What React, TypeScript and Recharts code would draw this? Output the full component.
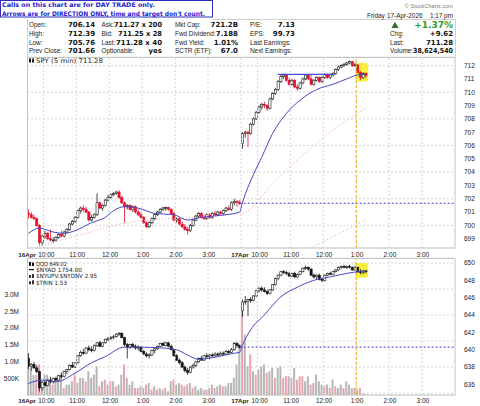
import React from "react";
import {
  ComposedChart,
  Bar,
  Line,
  XAxis,
  YAxis,
  CartesianGrid,
  ReferenceLine,
  ReferenceArea,
} from "recharts";

const W = 480;
const H = 406;
const SLOTS = 156; // two sessions of 5-min slots, 9:30 - 4:00

// SPY 5 min bars [open, high, low, close], 16-Apr 9:30 .. 3:55
const spyDay1 = [
  [700.9, 701.2, 700.5, 700.8], [700.8, 701.0, 700.5, 700.6], [700.6, 700.8, 700.4, 700.5],
  [700.5, 700.6, 699.9, 700.0], [700.0, 700.1, 698.5, 698.7], [698.7, 699.3, 698.5, 699.2],
  [699.2, 699.6, 699.0, 699.4], [699.4, 699.5, 698.9, 699.0], [699.0, 699.7, 698.8, 698.9],
  [698.9, 699.1, 698.7, 698.9], [698.9, 699.2, 698.8, 699.1], [699.1, 699.4, 699.0, 699.3],
  [699.3, 699.6, 699.1, 699.2], [699.2, 699.6, 699.1, 699.5], [699.5, 699.8, 699.4, 699.7],
  [699.7, 700.2, 699.6, 700.1], [700.1, 700.4, 700.0, 700.3], [700.3, 700.7, 700.2, 700.6],
  [700.6, 701.2, 700.5, 701.1], [701.1, 701.4, 700.9, 701.3], [701.3, 701.5, 701.0, 701.2],
  [701.2, 701.4, 700.9, 701.0], [701.0, 701.1, 700.3, 700.4], [700.4, 700.8, 700.3, 700.6],
  [700.6, 700.9, 700.5, 700.8], [700.8, 702.4, 700.7, 701.7], [701.7, 701.8, 701.2, 701.3],
  [701.3, 701.6, 701.1, 701.5], [701.5, 702.0, 701.4, 701.9], [701.9, 702.3, 701.8, 702.1],
  [702.1, 702.4, 702.0, 702.3], [702.3, 702.5, 702.2, 702.4], [702.4, 702.6, 702.3, 702.5],
  [702.5, 702.65, 702.0, 702.1], [702.1, 702.2, 701.6, 701.7], [701.7, 701.8, 700.2, 701.4],
  [701.4, 701.6, 701.2, 701.5], [701.5, 701.6, 701.1, 701.2], [701.2, 701.5, 701.0, 701.4],
  [701.4, 701.5, 700.9, 701.0], [701.0, 701.2, 700.7, 700.8], [700.8, 701.0, 700.5, 700.6],
  [700.6, 700.7, 700.1, 700.2], [700.2, 700.3, 699.8, 699.9], [699.9, 700.3, 699.8, 700.2],
  [700.2, 700.6, 700.1, 700.5], [700.5, 700.9, 700.4, 700.8], [700.8, 701.1, 700.7, 701.0],
  [701.0, 701.3, 700.9, 701.2], [701.2, 701.4, 701.1, 701.3], [701.3, 701.4, 701.1, 701.35],
  [701.35, 701.4, 701.1, 701.2], [701.2, 701.3, 700.8, 700.9], [700.9, 701.0, 700.3, 700.4],
  [700.4, 700.6, 700.2, 700.5], [700.5, 700.6, 700.0, 700.1], [700.1, 700.3, 699.8, 699.9],
  [699.9, 700.1, 699.6, 699.7], [699.7, 699.9, 699.3, 699.6], [699.6, 700.1, 699.5, 700.0],
  [700.0, 700.5, 699.9, 700.4], [700.4, 700.8, 700.3, 700.7], [700.7, 701.0, 700.6, 700.9],
  [700.9, 701.0, 700.5, 700.6], [700.6, 700.8, 700.4, 700.5], [700.5, 700.9, 700.4, 700.8],
  [700.8, 700.9, 700.5, 700.6], [700.6, 701.0, 700.5, 700.9], [700.9, 701.1, 700.7, 700.8],
  [700.8, 701.1, 700.7, 701.0], [701.0, 701.1, 700.8, 700.9], [700.9, 701.2, 700.8, 701.1],
  [701.1, 701.4, 701.0, 701.3], [701.3, 701.5, 701.1, 701.2], [701.2, 701.8, 701.1, 701.7],
  [701.7, 702.0, 701.5, 701.8], [701.8, 701.9, 701.4, 701.75], [701.75, 701.9, 701.5, 701.66],
];

// SPY 17-Apr 9:30 .. 1:15
const spyDay2 = [
  [706.14, 707.0, 705.76, 706.9], [706.9, 707.1, 706.6, 707.0], [707.0, 707.1, 705.9, 706.9],
  [706.9, 707.7, 706.8, 707.6], [707.6, 708.1, 707.5, 708.0], [708.0, 708.6, 707.9, 708.5],
  [708.5, 709.0, 708.4, 708.9], [708.9, 709.2, 708.7, 709.1], [709.1, 709.3, 708.8, 709.0],
  [709.0, 709.1, 708.6, 708.8], [708.8, 709.6, 708.7, 709.5], [709.5, 710.0, 709.4, 709.9],
  [709.9, 710.3, 709.8, 710.2], [710.2, 710.9, 710.1, 710.8], [710.8, 711.3, 710.7, 711.2],
  [711.2, 711.4, 711.0, 711.3], [711.3, 711.35, 710.8, 710.9], [710.9, 711.1, 710.5, 710.6],
  [710.6, 711.0, 710.5, 710.9], [710.9, 711.0, 710.3, 710.4], [710.4, 710.6, 710.1, 710.3],
  [710.3, 710.8, 710.2, 710.7], [710.7, 711.1, 710.6, 711.0], [711.0, 711.35, 710.9, 711.3],
  [711.3, 711.35, 710.9, 711.0], [711.0, 711.3, 710.5, 710.6], [710.6, 711.0, 710.5, 710.9],
  [710.9, 711.2, 710.8, 711.1], [711.1, 711.2, 710.7, 710.8], [710.8, 711.2, 710.7, 711.1],
  [711.1, 711.45, 711.0, 711.3], [711.3, 711.4, 711.0, 711.1], [711.1, 711.4, 711.0, 711.3],
  [711.3, 711.5, 711.2, 711.4], [711.4, 711.8, 711.3, 711.7], [711.7, 712.0, 711.6, 711.9],
  [711.9, 712.1, 711.8, 712.0], [712.0, 712.2, 711.9, 712.1], [712.1, 712.3, 712.0, 712.2],
  [712.2, 712.39, 712.1, 712.3], [712.3, 712.35, 711.9, 712.0], [712.0, 712.2, 711.9, 712.05],
  [712.05, 712.1, 711.4, 711.5], [711.5, 711.6, 710.9, 711.1], [711.1, 711.5, 711.0, 711.4],
  [711.4, 711.5, 711.1, 711.28],
];

// QQQ 5 min bars
const qqqDay1 = [
  [639.0, 639.6, 637.8, 638.1], [638.1, 638.5, 637.6, 638.3], [638.3, 638.6, 637.8, 637.9],
  [637.9, 638.2, 637.3, 637.5], [637.5, 637.6, 635.2, 635.6], [635.6, 636.4, 635.3, 636.2],
  [636.2, 636.5, 635.7, 635.9], [635.9, 636.6, 635.8, 636.5], [636.5, 636.9, 636.1, 636.3],
  [636.3, 636.8, 636.1, 636.7], [636.7, 636.9, 636.3, 636.5], [636.5, 637.1, 636.4, 637.0],
  [637.0, 637.4, 636.7, 636.9], [636.9, 637.6, 636.8, 637.5], [637.5, 637.8, 637.2, 637.7],
  [637.7, 638.3, 637.6, 638.2], [638.2, 638.6, 637.9, 638.0], [638.0, 638.6, 637.9, 638.5],
  [638.5, 639.4, 638.4, 639.3], [639.3, 639.9, 639.2, 639.7], [639.7, 640.1, 639.4, 639.6],
  [639.6, 640.3, 639.5, 640.2], [640.2, 640.5, 639.8, 640.0], [640.0, 640.4, 639.7, 639.9],
  [639.9, 640.6, 639.8, 640.5], [640.5, 640.9, 640.3, 640.8], [640.8, 641.0, 640.3, 640.4],
  [640.4, 640.9, 640.3, 640.8], [640.8, 641.3, 640.7, 641.2], [641.2, 641.5, 641.0, 641.3],
  [641.3, 641.6, 641.1, 641.4], [641.4, 641.7, 641.2, 641.5], [641.5, 641.9, 641.4, 641.8],
  [641.8, 642.05, 641.6, 641.9], [641.9, 642.0, 641.3, 641.4], [641.4, 641.5, 640.4, 640.6],
  [640.6, 640.8, 639.0, 640.3], [640.3, 640.7, 640.1, 640.6], [640.6, 640.8, 640.2, 640.4],
  [640.4, 640.6, 640.0, 640.2], [640.2, 640.5, 639.9, 640.3], [640.3, 640.4, 639.7, 639.8],
  [639.8, 640.0, 639.4, 639.5], [639.5, 639.7, 639.1, 639.3], [639.3, 639.6, 639.0, 639.4],
  [639.4, 640.0, 639.3, 639.9], [639.9, 640.2, 639.6, 640.1], [640.1, 640.5, 640.0, 640.4],
  [640.4, 640.8, 640.3, 640.7], [640.7, 640.9, 640.4, 640.5], [640.5, 640.9, 640.4, 640.8],
  [640.8, 640.9, 640.3, 640.4], [640.4, 640.6, 639.9, 640.0], [640.0, 640.1, 639.2, 639.3],
  [639.3, 639.5, 638.7, 638.8], [638.8, 639.0, 638.3, 638.5], [638.5, 638.7, 637.9, 638.0],
  [638.0, 638.2, 637.4, 637.6], [637.6, 637.9, 637.1, 637.4], [637.4, 638.1, 637.3, 638.0],
  [638.0, 638.4, 637.8, 638.2], [638.2, 638.7, 638.0, 638.6], [638.6, 639.1, 638.5, 639.0],
  [639.0, 639.3, 638.7, 638.8], [638.8, 639.4, 638.7, 639.3], [639.3, 639.6, 639.0, 639.2],
  [639.2, 639.5, 638.9, 639.4], [639.4, 639.6, 639.1, 639.3], [639.3, 639.7, 639.2, 639.5],
  [639.5, 639.7, 639.2, 639.4], [639.4, 639.8, 639.3, 639.6], [639.6, 639.8, 639.4, 639.5],
  [639.5, 640.0, 639.4, 639.8], [639.8, 640.0, 639.5, 639.7], [639.7, 640.2, 639.6, 640.0],
  [640.0, 640.9, 639.9, 640.7], [640.7, 640.9, 640.2, 640.5], [640.5, 640.6, 640.1, 640.3],
];

const qqqDay2 = [
  [644.5, 645.8, 643.8, 645.5], [645.5, 646.2, 645.2, 645.6], [645.6, 645.9, 643.9, 645.8],
  [645.8, 646.1, 645.4, 645.7], [645.7, 646.3, 645.6, 646.2], [646.2, 646.9, 646.1, 646.8],
  [646.8, 647.2, 646.6, 647.1], [647.1, 647.3, 646.7, 646.9], [646.9, 647.2, 646.6, 646.7],
  [646.7, 646.9, 646.3, 646.5], [646.5, 647.0, 646.4, 646.9], [646.9, 647.6, 646.8, 647.5],
  [647.5, 648.3, 647.4, 648.2], [648.2, 648.7, 648.0, 648.6], [648.6, 649.1, 648.5, 649.0],
  [649.0, 649.2, 648.7, 648.9], [648.9, 649.1, 648.6, 648.8], [648.8, 649.0, 648.4, 648.5],
  [648.5, 648.9, 648.4, 648.8], [648.8, 649.0, 648.3, 648.4], [648.4, 648.8, 648.3, 648.7],
  [648.7, 649.1, 648.6, 649.0], [649.0, 649.5, 648.9, 649.4], [649.4, 649.7, 649.2, 649.5],
  [649.5, 649.6, 649.1, 649.3], [649.3, 649.4, 648.5, 648.6], [648.6, 648.8, 648.2, 648.4],
  [648.4, 648.7, 648.1, 648.6], [648.6, 648.8, 648.0, 648.1], [648.1, 648.3, 647.8, 648.0],
  [648.0, 648.7, 647.9, 648.6], [648.6, 648.9, 648.5, 648.8], [648.8, 649.0, 648.6, 648.7],
  [648.7, 649.1, 648.6, 649.0], [649.0, 649.3, 648.9, 649.2], [649.2, 649.6, 649.1, 649.5],
  [649.5, 649.7, 649.3, 649.6], [649.6, 649.8, 649.4, 649.5], [649.5, 649.7, 649.3, 649.6],
  [649.6, 649.8, 649.4, 649.5], [649.5, 649.6, 649.1, 649.2], [649.2, 649.7, 649.1, 649.5],
  [649.5, 649.6, 648.9, 649.0], [649.0, 649.3, 648.7, 648.9], [648.9, 649.2, 648.7, 649.1],
  [649.1, 649.2, 648.8, 649.02],
];

// volume, millions; 1 = pink bar
const volDay1 = [
  1.15, 0.8, 0.6, 0.6, 0.92, 0.41, 0.61, 0.61, 0.46, 0.31,
  0.41, 0.41, 0.61, 0.21, 0.31, 0.31, 0.41, 0.61, 0.36, 0.51,
  0.51, 0.41, 0.71, 0.51, 0.61, 0.86, 0.26, 0.41, 0.46, 0.31,
  0.41, 0.41, 0.26, 0.31, 0.61, 0.91, 0.51, 0.31, 0.41, 0.21,
  0.21, 0.26, 0.21, 0.31, 0.36, 0.16, 0.26, 0.16, 0.21, 0.16,
  0.21, 0.11, 0.41, 0.46, 0.31, 0.36, 0.31, 0.26, 0.31, 0.36,
  0.21, 0.26, 0.16, 0.21, 0.16, 0.16, 0.21, 0.31, 0.21, 0.26,
  0.31, 0.26, 0.26, 0.36, 0.36, 0.51, 0.91, 1.51,
];
const volDay2 = [
  2.72, 1.81, 0.86, 1.21, 0.71, 0.61, 0.76, 0.86, 0.91, 0.66,
  0.71, 0.81, 0.51, 0.81, 0.86, 0.51, 0.56, 0.56, 0.51, 0.81,
  0.46, 0.56, 0.56, 0.41, 0.56, 0.31, 0.36, 0.61, 0.41, 0.31,
  0.26, 0.31, 0.21, 0.46, 0.26, 0.21, 0.31, 0.21, 0.41, 0.31,
  0.21, 0.21, 0.16, 0.21, 0.05, 0.02,
];
const volDownDay1 = [
  0, 0, 0, 1, 1, 0, 0, 0, 0, 1, 0, 0, 0, 1, 0, 0, 0, 1, 0, 0,
  0, 1, 0, 0, 0, 0, 1, 0, 1, 0, 1, 0, 1, 0, 0, 1, 0, 0, 0, 1,
  1, 0, 0, 1, 0, 1, 0, 1, 0, 0, 1, 0, 0, 1, 0, 0, 1, 0, 1, 0,
  1, 0, 0, 0, 1, 0, 1, 0, 1, 0, 0, 1, 0, 0, 0, 0, 0, 0,
];
const volDownDay2 = [
  1, 0, 0, 1, 0, 1, 0, 0, 0, 1, 0, 0, 1, 0, 0, 1, 1, 0, 1, 0,
  1, 1, 1, 0, 0, 1, 0, 0, 0, 0, 1, 0, 1, 0, 1, 0, 0, 1, 0, 0,
  0, 1, 0, 1, 0, 0,
];

// moving averages, read at selected slots [slot, value]
const spyMa = [
  [0, 699.4], [4, 699.8], [9, 699.5], [13, 699.4], [17, 699.6], [23, 700.2], [28, 700.6],
  [31, 701.1], [35, 701.4], [40, 701.3], [46, 700.9], [53, 700.8], [58, 700.4], [63, 700.6],
  [72, 700.8], [77, 701.0], [78, 701.7], [82, 703.8], [85, 705.1], [89, 706.9], [94, 708.4],
  [99, 709.4], [105, 710.2], [111, 710.6], [116, 711.0], [120, 711.3], [123, 711.35],
];
const spyMaSlow = [
  [3, 698.35], [20, 699.35], [36, 700.2], [50, 700.5], [63, 700.6], [75, 700.85],
  [78, 700.9], [88, 702.9], [99, 705.1], [110, 707.0], [123, 708.8],
];
const spyMaLong = [[103, 698.3], [123, 700.4]];
const qqqMa = [
  [0, 636.1], [5, 636.5], [10, 636.3], [17, 637.3], [23, 638.5], [28, 639.2], [35, 640.3],
  [40, 640.3], [49, 640.2], [54, 640.0], [58, 639.4], [62, 638.9], [69, 639.2], [75, 639.6],
  [77, 639.7], [78, 640.5], [81, 642.3], [86, 644.0], [92, 646.1], [98, 647.2], [104, 648.0],
  [110, 648.4], [116, 648.8], [121, 649.0], [123, 649.0],
];

const timeSlots = [0, 6, 18, 30, 42, 54, 66, 78, 84, 96, 108, 120, 132, 144];
const timeLabels = ["16Apr", "10:00", "11:00", "12:00", "1:00", "2:00", "3:00", "17Apr", "10:00", "11:00", "12:00", "1:00", "2:00", "3:00"];
const spyTicks = [699, 700, 701, 702, 703, 704, 705, 706, 707, 708, 709, 710, 711, 712];
const qqqTicks = [635, 636, 637, 638, 639, 640, 641, 642, 643, 644, 645, 646, 647, 648, 649, 650];
const volTicks = [0.5, 1, 1.5, 2, 2.5, 3];
const volTickLabels = ["500K", "1.0M", "1.5M", "2.0M", "2.5M", "3.0M"];

const SPY_PREV = 701.66;
const QQQ_PREV = 640.3;
const RESIST = 711.35;

const RED = "#e3102b";
const BLUE = "#4747c4";
const GRID = "#d6d6d6";
const AX_FONT = "Liberation Sans, Arial, sans-serif";

const spy = spyDay1.concat(spyDay2);
const qqq = qqqDay1.concat(qqqDay2);
const vols = volDay1.concat(volDay2);
const volDown = volDownDay1.concat(volDownDay2);

const rows: any[] = [];
for (let i = 0; i < SLOTS; i++) rows.push({ i });
spy.forEach((b, i) => {
  rows[i].s = { o: b[0], h: b[1], l: b[2], c: b[3], pc: i ? spy[i - 1][3] : b[0] };
  rows[i].sr = [b[2], b[1]];
});
qqq.forEach((b, i) => {
  rows[i].q = { o: b[0], h: b[1], l: b[2], c: b[3], pc: i ? qqq[i - 1][3] : b[0] };
  rows[i].qr = [b[2], b[1]];
});
vols.forEach((v, i) => {
  rows[i].vol = v;
  rows[i].down = volDown[i];
});
spyMa.forEach(([k, v]) => (rows[k].ma = v));
spyMaSlow.forEach(([k, v]) => (rows[k].maSlow = v));
spyMaLong.forEach(([k, v]) => (rows[k].maLong = v));
qqqMa.forEach(([k, v]) => (rows[k].qma = v));

function candle(key: "s" | "q", useRed: boolean) {
  return (p: any) => {
    const d = p.payload[key];
    if (!d || !p.height) return <g />;
    const k = p.height / (d.h - d.l);
    const yy = (v: number) => p.y + (d.h - v) * k;
    const cx = p.x + p.width / 2;
    const col = useRed && d.c < d.pc ? RED : "#151515";
    const top = yy(Math.max(d.o, d.c));
    const bh = Math.max(yy(Math.min(d.o, d.c)) - top, 0.8);
    return (
      <g>
        <line x1={cx} x2={cx} y1={p.y} y2={p.y + p.height} stroke={col} strokeWidth={0.8} />
        <rect x={cx - 1.1} y={top} width={2.2} height={bh} fill={d.c >= d.o ? "#fff" : col} stroke={col} strokeWidth={0.6} />
      </g>
    );
  };
}

function timeTick(dy: number) {
  return (p: any) => {
    const idx = timeSlots.indexOf(p.payload.value);
    if (idx < 0) return <g />;
    const text = timeLabels[idx];
    const day = text.includes("Apr");
    const first = p.payload.value === 0;
    // day labels sit just left of the following 10:00 label, as in the source chart
    const x = first ? p.x - 10 : day ? p.x - 2.4 : p.x + (idx === 1 ? 1.5 : idx === 8 ? 0.8 : -0.6);
    return (
      <text
        x={x}
        y={p.y + dy}
        textAnchor={first ? "start" : "middle"}
        fontSize={day ? 6.2 : 6.5}
        fontWeight={day ? 700 : 400}
        fill="#222"
        fontFamily={AX_FONT}
      >
        {text}
      </text>
    );
  };
}

const glow = (p: any) => <rect x={p.x - 1} y={p.y} width={p.width + 2} height={p.height} rx={3} fill="#f6ef3c" />;

const hourLines = (xId: string, yId: string) =>
  timeSlots.slice(1).map((k) => (
    <ReferenceLine key={"h" + k} x={k} position="start" xAxisId={xId} yAxisId={yId} stroke={GRID} strokeDasharray="2 2" />
  ));

function SpyPanel() {
  return (
    <ComposedChart width={W} height={258} data={rows} margin={{ top: 57, right: 0, bottom: 0, left: 27 }} barCategoryGap={0}>
      <CartesianGrid vertical={false} stroke={GRID} strokeDasharray="2 2" xAxisId="p" yAxisId="price" />
      <XAxis xAxisId="p" dataKey="i" interval={0} height={10} tickLine={false} axisLine={false} tickSize={0} tickMargin={0} tick={timeTick(9.3)} />
      <YAxis yAxisId="price" orientation="right" width={25} domain={[698.3, 712.65]} ticks={spyTicks} allowDataOverflow tickLine={false} axisLine={false} tickMargin={3} tick={{ fontSize: 6.5, fill: "#222", fontFamily: AX_FONT }} />
      {hourLines("p", "price")}
      <ReferenceArea xAxisId="p" yAxisId="price" x1={120} x2={123} y1={710.8} y2={712.2} shape={glow} />
      <ReferenceLine xAxisId="p" yAxisId="price" segment={[{ x: 77, y: SPY_PREV }, { x: 155, y: SPY_PREV }]} stroke="#3b3bdb" strokeDasharray="2 2" />
      <ReferenceLine xAxisId="p" yAxisId="price" x={120} position="start" stroke="#f2b400" strokeDasharray="3 2" />
      <Line xAxisId="p" yAxisId="price" dataKey="maLong" stroke="#f0a0ad" strokeDasharray="1 2" dot={false} connectNulls isAnimationActive={false} />
      <Line xAxisId="p" yAxisId="price" dataKey="maSlow" type="monotone" stroke="#f0a0ad" strokeDasharray="1 2" dot={false} connectNulls isAnimationActive={false} />
      <Bar xAxisId="p" yAxisId="price" dataKey="sr" shape={candle("s", true)} isAnimationActive={false} />
      <Line xAxisId="p" yAxisId="price" dataKey="ma" type="monotone" stroke={BLUE} strokeWidth={1} dot={false} connectNulls isAnimationActive={false} />
      <ReferenceLine xAxisId="p" yAxisId="price" segment={[{ x: 91, y: RESIST }, { x: 111, y: RESIST }]} stroke="#4a4ad6" strokeWidth={1.2} />
    </ComposedChart>
  );
}

function QqqPanel() {
  return (
    <ComposedChart width={W} height={H} data={rows} margin={{ top: 258, right: 0, bottom: 0, left: 0 }} barCategoryGap={0}>
      <CartesianGrid vertical={false} stroke={GRID} strokeDasharray="2 2" xAxisId="p" yAxisId="price" />
      <XAxis xAxisId="p" dataKey="i" interval={0} height={11} tickLine={false} axisLine={false} tickSize={0} tickMargin={0} tick={timeTick(8)} />
      <XAxis xAxisId="v" dataKey="i" hide />
      <YAxis yAxisId="vol" orientation="left" width={27} domain={[0, 4.1]} ticks={volTicks} allowDataOverflow tickLine={false} axisLine={false} tickMargin={2}
        tickFormatter={(v: number) => volTickLabels[volTicks.indexOf(v)]} tick={{ fontSize: 6.5, fill: "#222", fontFamily: AX_FONT }} />
      <YAxis yAxisId="price" orientation="right" width={25} domain={[634.78, 650.58]} ticks={qqqTicks} allowDataOverflow tickLine={false} axisLine={false} tickMargin={3} tick={{ fontSize: 6.5, fill: "#222", fontFamily: AX_FONT }} />
      {hourLines("p", "price")}
      <Bar xAxisId="v" yAxisId="vol" dataKey="vol" barSize={2} isAnimationActive={false}
        shape={(p: any) => <rect x={p.x} y={p.y} width={p.width} height={p.height} fill={p.payload.down ? "#eaa4ae" : "#b7b7b7"} />} />
      <ReferenceArea xAxisId="p" yAxisId="price" x1={120} x2={123} y1={648.3} y2={650.0} shape={glow} />
      <ReferenceLine xAxisId="p" yAxisId="price" segment={[{ x: 77, y: QQQ_PREV }, { x: 155, y: QQQ_PREV }]} stroke="#3b3bdb" strokeDasharray="2 2" />
      <ReferenceLine xAxisId="p" yAxisId="price" x={120} position="start" stroke="#f2b400" strokeDasharray="3 2" />
      <Bar xAxisId="p" yAxisId="price" dataKey="qr" shape={candle("q", false)} isAnimationActive={false} />
      <Line xAxisId="p" yAxisId="price" dataKey="qma" type="monotone" stroke={BLUE} strokeWidth={1} dot={false} connectNulls isAnimationActive={false} />
    </ComposedChart>
  );
}

const tableRows = [
  ["Open:", "706.14", "Ask:", "711.27 x 200", "Mkt Cap:", "721.2B", "P/E:", "7.13"],
  ["High:", "712.39", "Bid:", "711.25 x 28", "Fwd Dividend:", "7.188", "EPS:", "99.73"],
  ["Low:", "705.76", "Last:", "711.28 x 40", "Fwd Yield:", "1.01%", "Last Earnings:", ""],
  ["Prev Close:", "701.66", "Optionable:", "yes", "SCTR (ETF):", "67.0", "Next Earnings:", ""],
];
const quoteRows = [
  ["", ""],
  ["Chg:", "+9.62"],
  ["Last:", "711.28"],
  ["Volume:", "38,624,540"],
];
// widths of the long quote values as they appear in the header
const fitWidth: Record<string, number> = {
  "711.27 x 200": 48,
  "711.25 x 28": 44,
  "711.28 x 40": 46,
  "38,624,540": 40,
};

function Overlay() {
  const lab = { fontSize: 6.4, fill: "#222", fontFamily: AX_FONT } as const;
  const val = { fontSize: 7, fill: "#111", fontWeight: 700, fontFamily: "DejaVu Sans", textAnchor: "end" } as const;
  const cols = [[29, 95], [101.5, 162], [175, 238], [250, 295]];
  const base = [27.3, 36, 44.6, 53.3];
  const valText = (x: number, y: number, s: string) =>
    fitWidth[s] ? (
      <text x={x} y={y} {...val} textLength={fitWidth[s]} lengthAdjust="spacingAndGlyphs">{s}</text>
    ) : (
      <text x={x} y={y} {...val}>{s}</text>
    );
  return (
    <svg width={W} height={H} style={{ position: "absolute", left: 0, top: 0, pointerEvents: "none" }}>
      <line x1={27.5} y1={19} x2={27.5} y2={57} stroke="#cfcfcf" />
      <line x1={213} y1={19.5} x2={455.5} y2={19.5} stroke="#cfcfcf" />
      <line x1={455.5} y1={19} x2={455.5} y2={57} stroke="#cfcfcf" />
      <rect x={0.5} y={0.5} width={212} height={16.5} fill="#fff" stroke="#2f2fbf" />
      <text x={2} y={7.4} fontSize={6.3} fontWeight={700} fill="#1d1dd0" fontFamily="DejaVu Sans" textLength={153} lengthAdjust="spacingAndGlyphs">
        Calls on this chart are for DAY TRADE only.
      </text>
      <text x={2} y={15.7} fontSize={6.3} fontWeight={700} fill="#1d1dd0" fontFamily="DejaVu Sans" textLength={203} lengthAdjust="spacingAndGlyphs">
        Arrows are for DIRECTION ONLY, time and target don't count.
      </text>
      <text x={453} y={7.5} textAnchor="end" fontSize={5.6} fill="#7a7a7a" fontFamily={AX_FONT}>© StockCharts.com</text>
      <text x={367} y={17.8} {...lab}>Friday</text>
      <text x={387} y={17.8} {...lab}>17-Apr-2026</text>
      <text x={453} y={17.8} {...lab} textAnchor="end">1:17 pm</text>
      {tableRows.map((r, ri) =>
        cols.map(([lx, vx], ci) => (
          <g key={ri + "-" + ci}>
            <text x={lx} y={base[ri]} {...lab}>{r[ci * 2]}</text>
            {valText(vx, base[ri], r[ci * 2 + 1])}
          </g>
        ))
      )}
      {quoteRows.map((r, ri) => (
        <g key={"q" + ri}>
          <text x={390} y={base[ri]} {...lab}>{r[0]}</text>
          {valText(453, base[ri], r[1])}
        </g>
      ))}
      <path d="M391.5 28 L395 21.7 L398.5 28 Z" fill="#2e6b2e" />
      <text x={453} y={28} textAnchor="end" fontSize={9} fontWeight={700} fill="#2f9a2f" fontFamily="DejaVu Sans">+1.37%</text>

      <rect x={27.5} y={57.5} width={427.5} height={190.5} fill="none" stroke="#c4c4c4" />
      <rect x={27.5} y={258.5} width={427.5} height={136.5} fill="none" stroke="#c4c4c4" />

      <line x1={30} y1={58} x2={30} y2={63} stroke="#111" />
      <rect x={29} y={59} width={2} height={3} fill="#111" />
      <line x1={33} y1={58} x2={33} y2={63} stroke="#111" />
      <rect x={32} y={59.5} width={2} height={2.5} fill="#111" />
      <text x={36} y={63.3} fontSize={6.4} fill="#222" fontFamily="DejaVu Sans" textLength={67} lengthAdjust="spacingAndGlyphs">SPY (5 min) 711.28</text>

      <rect x={29} y={262} width={2} height={4} fill="#111" />
      <rect x={32} y={262.5} width={2} height={3.5} fill="#111" />
      <text x={36} y={266.2} fontSize={5.8} fill="#222" fontFamily="DejaVu Sans" textLength={31} lengthAdjust="spacingAndGlyphs">QQQ 649.02</text>
      <line x1={29} y1={269.6} x2={34} y2={269.6} stroke="#111" strokeWidth={1.2} />
      <text x={36} y={271.5} fontSize={5.8} fill="#222" fontFamily="DejaVu Sans" textLength={46} lengthAdjust="spacingAndGlyphs">$NYAD 1754.00</text>
      <rect x={29} y={275} width={2} height={3} fill="#333" />
      <rect x={32} y={274} width={2} height={4} fill="#333" />
      <text x={36} y={278.2} fontSize={5.8} fill="#222" fontFamily="DejaVu Sans" textLength={61} lengthAdjust="spacingAndGlyphs">$NYUPV:$NYDNV 2.95</text>
      <rect x={29} y={281.3} width={2} height={3} fill="#333" />
      <rect x={32} y={280.3} width={2} height={4} fill="#333" />
      <text x={36} y={284.5} fontSize={5.8} fill="#222" fontFamily="DejaVu Sans" textLength={31} lengthAdjust="spacingAndGlyphs">$TRIN 1.53</text>
    </svg>
  );
}

export default function App() {
  return (
    <div style={{ position: "absolute", left: 0, top: 0, width: W, height: H, background: "#fff", overflow: "hidden" }}>
      <div style={{ position: "absolute", left: 0, top: 0 }}>
        <SpyPanel />
      </div>
      <div style={{ position: "absolute", left: 0, top: 0 }}>
        <QqqPanel />
      </div>
      <Overlay />
    </div>
  );
}
